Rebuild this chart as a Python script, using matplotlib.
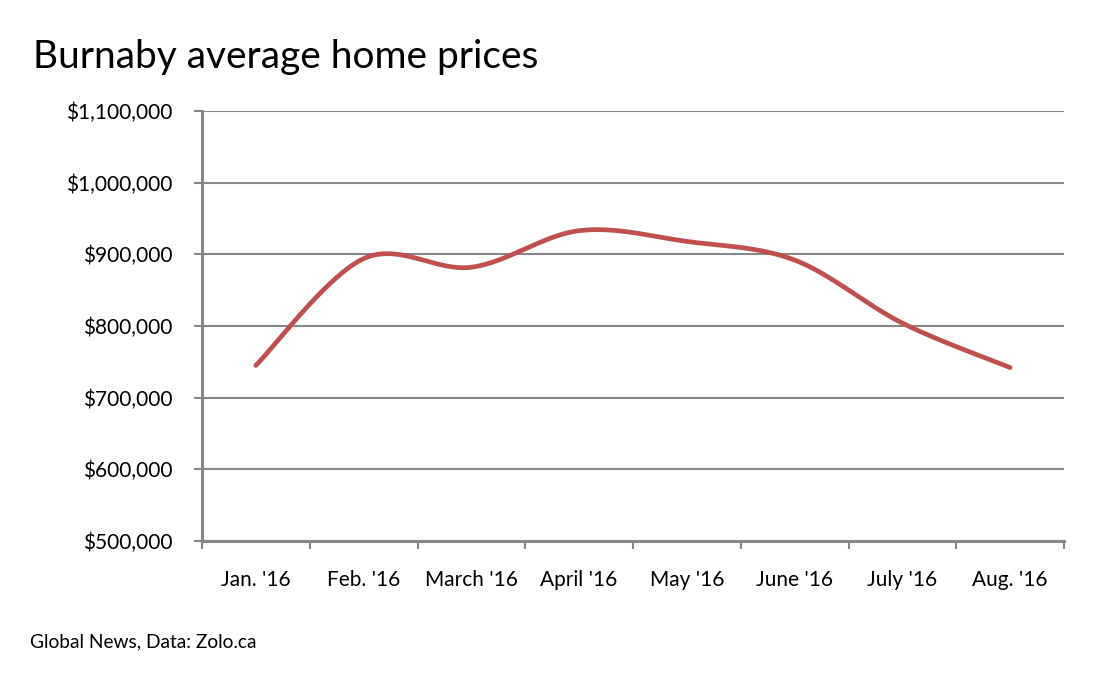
import numpy as np
import matplotlib
matplotlib.use('Agg')
import matplotlib.pyplot as plt
from matplotlib.ticker import FuncFormatter

months = ["Jan. '16", "Feb. '16", "March '16", "April '16", "May '16",
          "June '16", "July '16", "Aug. '16"]
prices = [745000, 894000, 882000, 933000, 918000, 892000, 804000, 742000]


def excel_smooth(y, steps=40):
    # bezier segments with catmull-rom style control points, like Excel's smoothed line
    y = np.asarray(y, dtype=float)
    x = np.arange(len(y), dtype=float)
    px = np.concatenate(([x[0]], x, [x[-1]]))
    py = np.concatenate(([y[0]], y, [y[-1]]))
    xs, ys = [], []
    t = np.linspace(0, 1, steps)
    for i in range(1, len(px) - 2):
        p0 = np.array([px[i], py[i]])
        p3 = np.array([px[i + 1], py[i + 1]])
        c1 = p0 + (np.array([px[i + 1], py[i + 1]]) - np.array([px[i - 1], py[i - 1]])) / 6
        c2 = p3 - (np.array([px[i + 2], py[i + 2]]) - np.array([px[i], py[i]])) / 6
        pts = ((1 - t) ** 3)[:, None] * p0 + (3 * (1 - t) ** 2 * t)[:, None] * c1 \
            + (3 * (1 - t) * t ** 2)[:, None] * c2 + (t ** 3)[:, None] * p3
        xs.append(pts[:, 0])
        ys.append(pts[:, 1])
    return np.concatenate(xs), np.concatenate(ys)


plt.rcParams['font.family'] = ['Lato', 'DejaVu Sans']

fig = plt.figure(figsize=(11.11, 6.75), dpi=100)
ax = fig.add_axes([202 / 1111, 1 - 541 / 675, (1064 - 202) / 1111, (541 - 111) / 675])

grey = '#878787'
sx, sy = excel_smooth(prices)
ax.plot(sx, sy, color='#C0504D', lw=3.4, solid_capstyle='round', zorder=3)

ax.set_ylim(500000, 1100000)
ax.set_yticks(np.arange(500000, 1100001, 100000))
ax.yaxis.set_major_formatter(FuncFormatter(lambda v, p: '${:,.0f}'.format(v)))
ax.grid(axis='y', color=grey, lw=1.5)
ax.set_axisbelow(True)

ax.set_xlim(-0.5, len(months) - 0.5)
ax.set_xticks(np.arange(-0.5, len(months), 1.0))
ax.set_xticklabels([])
ax.set_xticks(np.arange(len(months)), minor=True)
ax.set_xticklabels(months, minor=True)
ax.tick_params(axis='x', which='minor', length=0, pad=21, labelsize=15)
ax.tick_params(axis='x', which='major', length=6, width=1.5, color=grey)
ax.tick_params(axis='y', length=6, width=1.5, color=grey, labelsize=15, pad=15)

for s in ['top', 'right']:
    ax.spines[s].set_visible(False)
for s in ['left', 'bottom']:
    ax.spines[s].set_color(grey)
    ax.spines[s].set_linewidth(2.2)

fig.text(33 / 1111, 1 - 57 / 675, 'Burnaby average home prices', fontsize=28,
         va='center', ha='left')
fig.text(30 / 1111, 1 - 642 / 675, 'Global News, Data: Zolo.ca', fontsize=13.8,
         va='center', ha='left')

fig.savefig('out.png', dpi=100)
